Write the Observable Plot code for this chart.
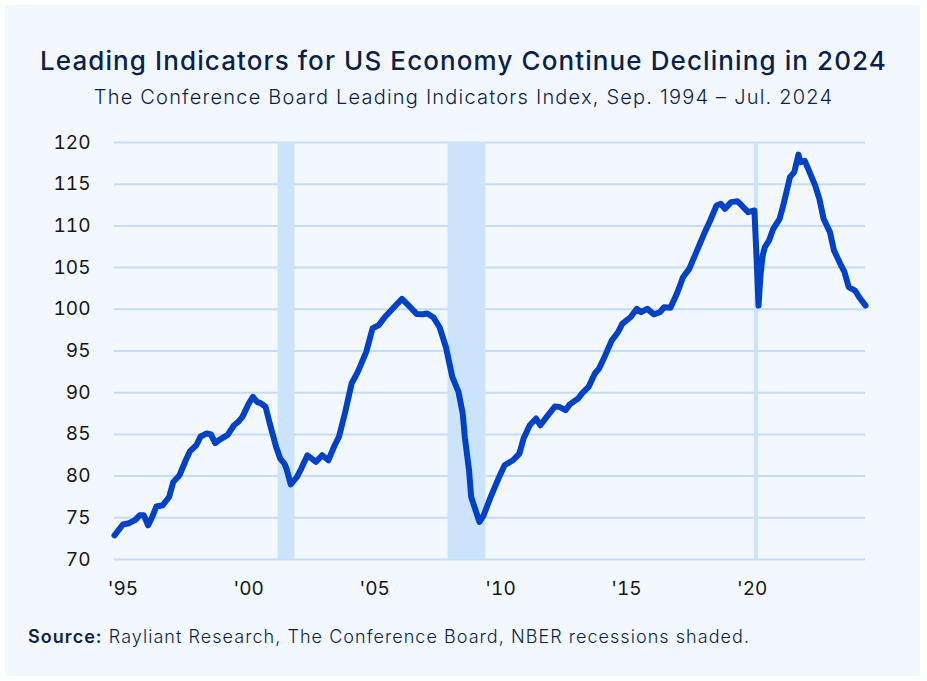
<!DOCTYPE html>
<html><head><meta charset="utf-8">
<script src="https://cdn.jsdelivr.net/npm/d3@7"></script>
<script src="https://cdn.jsdelivr.net/npm/@observablehq/plot@0.6"></script>
<style>
body{margin:0;background:#fff;font-family:Inter,"Noto Sans",sans-serif;width:927px;height:681px;overflow:hidden;position:relative;}
#panel{position:absolute;left:5px;top:5px;width:915px;height:671px;background:#f3f8fe;}
#title{position:absolute;left:0;top:45px;width:927px;text-align:center;font-size:26px;font-weight:500;color:#0c1f4a;letter-spacing:1.1px;line-height:32px;}
#subtitle{position:absolute;left:0;top:85px;width:927px;text-align:center;font-size:20px;font-weight:300;color:#0c1f4a;letter-spacing:1.2px;line-height:24px;}
#chart{position:absolute;left:0;top:120px;}
#caption{position:absolute;left:28px;top:626px;font-size:18px;font-weight:300;color:#0c1f4a;letter-spacing:1.05px;line-height:22px;}
#caption b{font-weight:600;}
</style>
</head><body>
<div id="panel"></div>
<div id="title">Leading Indicators for US Economy Continue Declining in 2024</div>
<div id="subtitle">The Conference Board Leading Indicators Index, Sep. 1994 – Jul. 2024</div>
<div id="chart"></div>
<div id="caption"><b>Source:</b> Rayliant Research, The Conference Board, NBER recessions shaded.</div>
<script>
const dates = ["1994-09","1995-01","1995-04","1995-07","1995-09","1995-11","1996-01","1996-03","1996-05","1996-08","1996-11",
"1997-01","1997-04","1997-07","1997-09","1997-12","1998-02","1998-05","1998-07","1998-09","1998-11",
"1999-03","1999-06","1999-08","1999-10","2000-01","2000-03","2000-05","2000-07","2000-09","2000-11",
"2001-02","2001-04","2001-06","2001-07","2001-09","2001-12","2002-02","2002-05","2002-09","2002-12",
"2003-03","2003-06","2003-08","2003-11","2004-02","2004-05","2004-09","2004-12","2005-03","2005-06",
"2005-08","2005-11","2006-02","2006-06","2006-09","2006-12","2007-02","2007-05","2007-08","2007-11",
"2008-02","2008-05","2008-07","2008-08","2008-10","2008-11","2009-03","2009-05","2009-08","2009-12",
"2010-03","2010-07","2010-10","2010-12","2011-03","2011-06","2011-08","2011-11","2012-03","2012-05",
"2012-08","2012-10","2013-02","2013-04","2013-07","2013-10","2013-12","2014-03","2014-06","2014-09",
"2014-11","2015-03","2015-06","2015-08","2015-11","2016-02","2016-05","2016-07","2016-10","2017-01",
"2017-02","2017-04","2017-07","2017-10","2018-02","2018-05","2018-08","2018-10","2018-12","2019-03",
"2019-06","2019-08","2019-11","2020-02","2020-03","2020-04","2020-05","2020-06","2020-07","2020-09",
"2020-11","2021-02","2021-04","2021-07","2021-09","2021-11","2021-12","2022-02","2022-04","2022-07",
"2022-09","2022-11","2023-02","2023-04","2023-07","2023-09","2023-11","2024-02","2024-04","2024-07"];
const values = [72.9,74.2,74.35,74.75,75.3,75.3,74.1,75.1,76.35,76.5,77.5,
79.3,80.1,81.9,83.0,83.7,84.75,85.1,85.0,83.95,84.35,
84.95,86.1,86.5,87.1,88.7,89.5,88.9,88.7,88.3,86.3,
83.5,82.1,81.5,80.9,79.0,79.9,80.9,82.5,81.7,82.5,
81.9,83.7,84.7,87.7,91.1,92.5,94.9,97.7,98.1,99.1,
99.65,100.45,101.25,100.25,99.45,99.4,99.5,99.05,97.85,95.45,
91.9,90.1,87.5,84.65,80.7,77.5,74.5,75.3,77.3,79.7,
81.3,81.9,82.7,84.5,86.1,86.9,86.1,87.1,88.35,88.3,
87.9,88.6,89.3,89.95,90.7,92.3,92.9,94.5,96.25,97.25,
98.25,99.05,100.05,99.65,100.05,99.4,99.65,100.25,100.2,101.85,
102.5,103.85,104.85,106.65,109.05,110.65,112.45,112.65,112.05,112.85,
112.95,112.45,111.65,111.85,106.65,100.45,104.25,106.45,107.45,108.25,
109.65,110.85,112.65,115.85,116.45,118.55,117.65,117.8,116.65,114.85,
113.25,110.85,109.25,107.05,105.45,104.45,102.65,102.25,101.45,100.45];
const recessionStart = ["2001-03","2007-12","2020-02"];
const recessionEnd = ["2001-11","2009-06","2020-04"];
const yTicks = [70,75,80,85,90,95,100,105,110,115,120];
const xTickYears = [1995,2000,2005,2010,2015,2020];

const parse = d3.utcParse("%Y-%m");
const data = dates.map((d,i)=>({date:parse(d), value:values[i]}));
const rec = recessionStart.map((s,i)=>({x1:parse(s), x2:parse(recessionEnd[i])}));
const xTicks = xTickYears.map(y=>new Date(Date.UTC(y,0,1)));

const plot = Plot.plot({
  width:927, height:490,
  marginTop:22, marginBottom:51, marginLeft:114, marginRight:62,
  style:{background:"transparent", fontFamily:"Inter, sans-serif", fontSize:"19px", color:"#161616", overflow:"visible"},
  x:{type:"utc", domain:[parse(dates[0]), parse(dates[dates.length-1])], label:null},
  y:{domain:[70,120], label:null},
  marks:[
    Plot.ruleY(yTicks,{stroke:"#c3dcf9", strokeWidth:2}),
    Plot.rect(rec,{x1:"x1", x2:"x2", y1:70, y2:120, fill:"#cbe3fb"}),
    Plot.line(data,{x:"date", y:"value", stroke:"#0042c6", strokeWidth:6, strokeLinejoin:"round", strokeLinecap:"round"}),
    Plot.axisX(xTicks,{tickSize:0, tickPadding:22, label:null, tickFormat:d=>"'"+String(d.getUTCFullYear()).slice(2), fontSize:19}),
    Plot.axisY(yTicks,{tickSize:0, tickPadding:24, label:null, fontSize:19})
  ]
});
document.getElementById("chart").appendChild(plot);
</script>
</body></html>
